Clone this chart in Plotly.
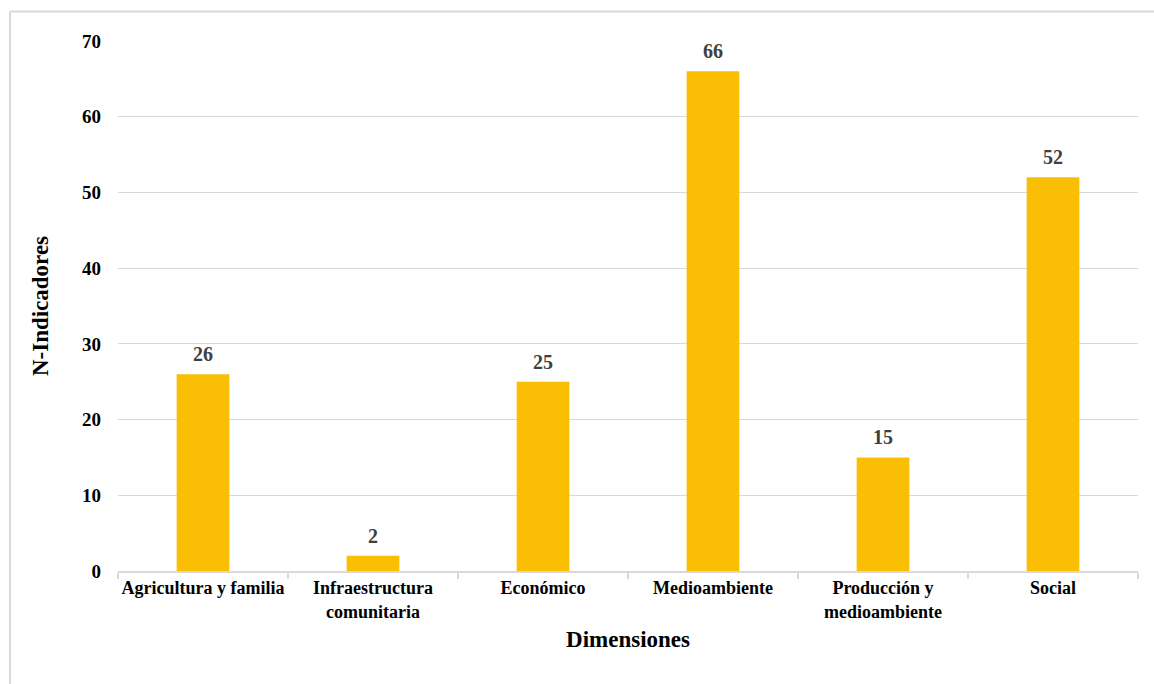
import plotly.graph_objects as go

categories = ["Agricultura y familia", "Infraestructura<br>comunitaria", "Económico",
              "Medioambiente", "Producción y<br>medioambiente", "Social"]
values = [26, 2, 25, 66, 15, 52]
y_ticks = [0, 10, 20, 30, 40, 50, 60, 70]

FONT = "Liberation Serif"
GRID = "#d9d9d9"
BAR = "#FABF04"

fig = go.Figure()
fig.add_trace(go.Bar(x=categories, y=values, marker=dict(color=BAR, line=dict(width=0)),
                     hoverinfo="skip"))

for c, v in zip(categories, values):
    fig.add_annotation(x=c, y=v, text=str(v), showarrow=False, yanchor="bottom",
                       yshift=7, font=dict(family=FONT, size=20, color="#404040", weight="bold"))

L, R, T, B = 118, 16, 41, 113
W, H = 1154, 684
pw, ph = W - L - R, H - T - B

def px_x(p):
    return (p - L) / pw

def px_y(p):
    return (H - B - p) / ph

# light outer frame (top and left edges)
fig.add_shape(type="line", xref="paper", yref="paper", x0=px_x(10), x1=px_x(1160),
              y0=px_y(11.5), y1=px_y(11.5), line=dict(color=GRID, width=2))
fig.add_shape(type="line", xref="paper", yref="paper", x0=px_x(10), x1=px_x(10),
              y0=px_y(11.5), y1=px_y(700), line=dict(color=GRID, width=2))

fig.update_layout(
    width=W, height=H,
    margin=dict(l=L, r=R, t=T, b=B, autoexpand=False),
    plot_bgcolor="white", paper_bgcolor="white",
    bargap=0.69, showlegend=False,
    font=dict(family=FONT, color="black"),
    xaxis=dict(
        tickfont=dict(family=FONT, size=18, color="black", weight="bold"),
        tickangle=0,
        showline=True, linecolor=GRID, linewidth=1.5,
        ticks="outside", tickson="boundaries", ticklen=6, tickcolor=GRID, tickwidth=1.5,
        showgrid=False,
        title=dict(text="Dimensiones", font=dict(family=FONT, size=23, color="black", weight="bold"),
                   standoff=10),
    ),
    yaxis=dict(
        range=[0, 70], tickvals=y_ticks,
        tickfont=dict(family=FONT, size=19, color="black", weight="bold"),
        showgrid=True, gridcolor=GRID, gridwidth=1,
        zeroline=False, showline=False, ticks="",
        ticklabelstandoff=16,
        title=dict(text="N-Indicadores", font=dict(family=FONT, size=23, color="black", weight="bold"),
                   standoff=26),
    ),
)

fig.write_html("out.html")
